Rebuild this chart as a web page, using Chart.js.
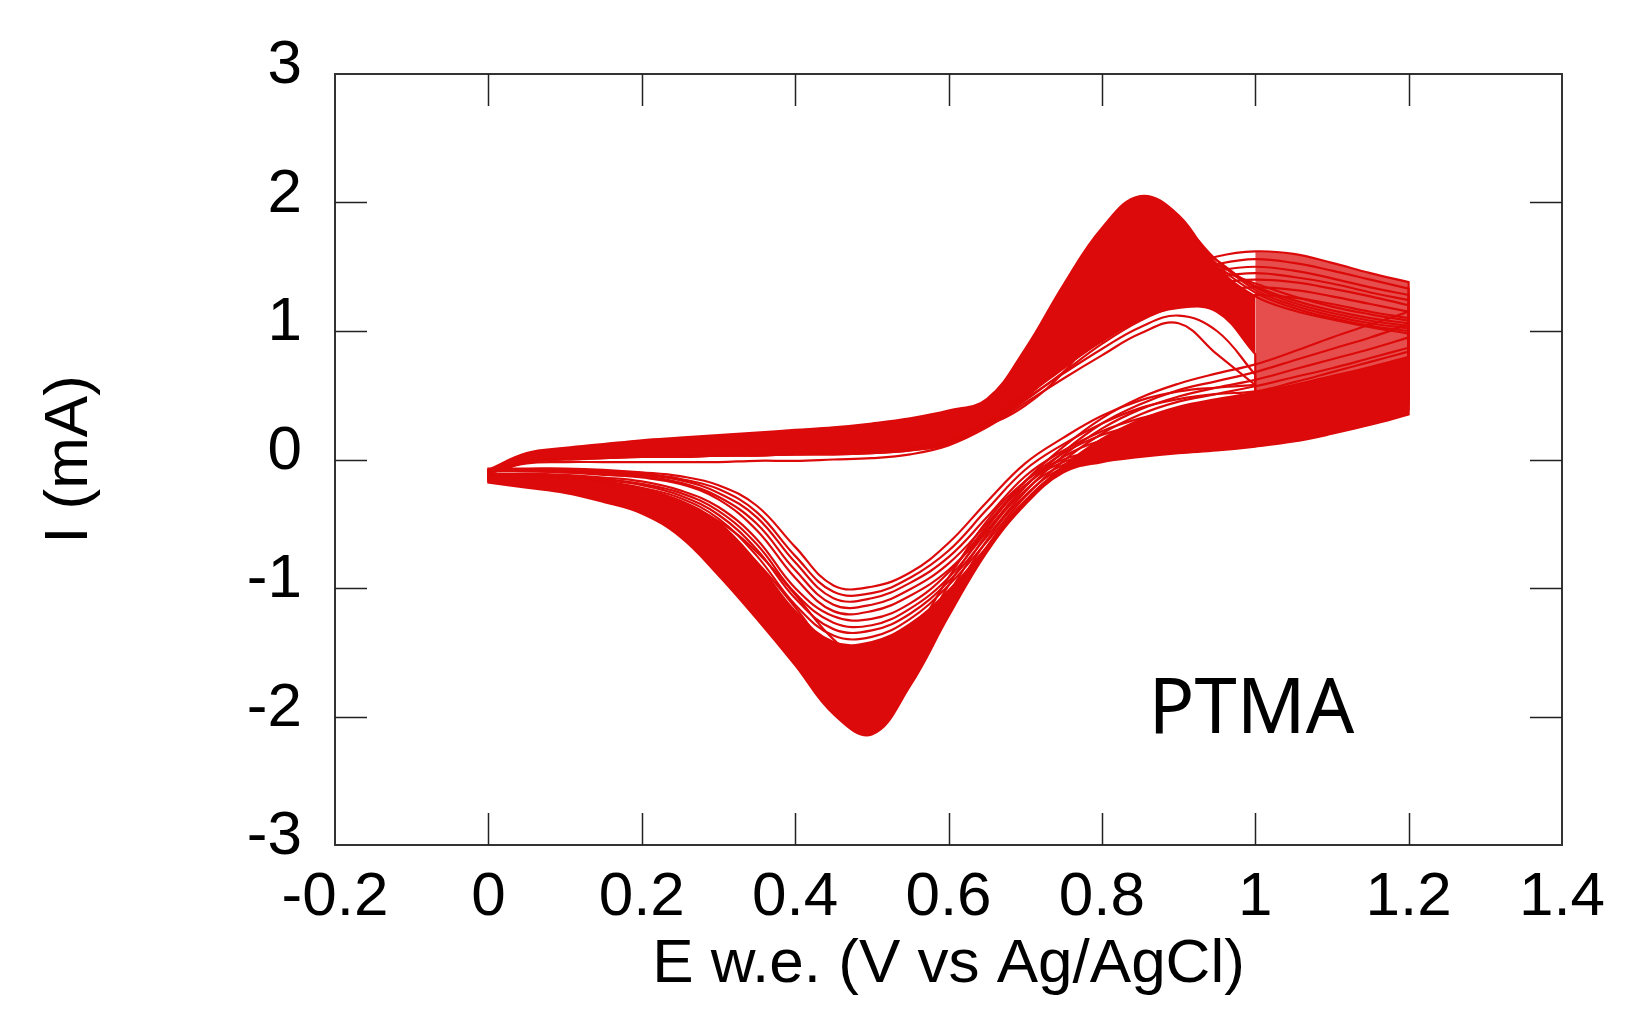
<!DOCTYPE html>
<html>
<head>
<meta charset="utf-8">
<script src="https://cdn.jsdelivr.net/npm/chart.js@4.4.1/dist/chart.umd.min.js"></script>
<style>
  html, body { margin: 0; padding: 0; background: #fff; }
  #wrap { width: 1641px; height: 1028px; }
</style>
</head>
<body>
<div id="wrap"><canvas id="c" width="1641" height="1028"></canvas></div>
<script>
// ---------- data ----------
// potential grid (V vs Ag/AgCl) shared by all branches
const E_GRID = [0, 0.05, 0.1, 0.15, 0.2, 0.25, 0.3, 0.35, 0.4, 0.45, 0.5, 0.55, 0.6,
                0.65, 0.7, 0.75, 0.8, 0.85, 0.9, 0.95, 1.0, 1.05, 1.1, 1.15, 1.2];

// main cycles (switching potential 1.2 V) - anodic branch (mA), E ascending
const M1_ANODIC = [-0.08, 0.05, 0.09, 0.12, 0.15, 0.17, 0.19, 0.21, 0.23, 0.25, 0.28, 0.32, 0.38, 0.47, 0.86, 1.36, 1.80, 2.05, 1.90, 1.50, 1.27, 1.16, 1.09, 1.03, 0.98];
const M2_ANODIC = [-0.09, 0.04, 0.08, 0.11, 0.13, 0.15, 0.17, 0.19, 0.21, 0.23, 0.26, 0.29, 0.34, 0.43, 0.74, 1.22, 1.70, 1.96, 1.86, 1.52, 1.30, 1.18, 1.10, 1.04, 1.00];
const M3_ANODIC = [-0.10, 0.03, 0.07, 0.10, 0.12, 0.14, 0.15, 0.17, 0.19, 0.21, 0.23, 0.26, 0.30, 0.38, 0.63, 1.06, 1.55, 1.84, 1.83, 1.55, 1.32, 1.20, 1.12, 1.06, 1.02];
const M4_ANODIC = [-0.10, 0.02, 0.06, 0.08, 0.10, 0.12, 0.13, 0.15, 0.16, 0.18, 0.20, 0.23, 0.27, 0.34, 0.55, 0.92, 1.38, 1.70, 1.75, 1.55, 1.34, 1.22, 1.14, 1.08, 1.04];
const M5_ANODIC = [-0.11, 0.01, 0.05, 0.07, 0.09, 0.10, 0.11, 0.12, 0.14, 0.15, 0.17, 0.20, 0.24, 0.30, 0.48, 0.80, 1.22, 1.53, 1.63, 1.52, 1.35, 1.24, 1.16, 1.10, 1.06];
const M6_ANODIC = [-0.11, 0.00, 0.04, 0.06, 0.07, 0.08, 0.09, 0.10, 0.11, 0.13, 0.15, 0.17, 0.21, 0.27, 0.42, 0.68, 1.04, 1.34, 1.50, 1.47, 1.37, 1.27, 1.19, 1.13, 1.08];

// main cycles - cathodic branch (mA), listed with E ascending
const M1_CATHODIC = [-0.18, -0.22, -0.26, -0.33, -0.42, -0.60, -0.90, -1.24, -1.60, -1.98, -2.14, -1.76, -1.22, -0.72, -0.35, -0.10, -0.02, 0.02, 0.05, 0.07, 0.10, 0.14, 0.20, 0.27, 0.35];
const M2_CATHODIC = [-0.17, -0.21, -0.25, -0.30, -0.38, -0.52, -0.78, -1.10, -1.46, -1.84, -2.04, -1.72, -1.18, -0.68, -0.32, -0.08, 0.00, 0.04, 0.07, 0.10, 0.13, 0.18, 0.24, 0.31, 0.39];
const M3_CATHODIC = [-0.16, -0.19, -0.23, -0.28, -0.35, -0.47, -0.68, -0.97, -1.33, -1.74, -1.95, -1.66, -1.12, -0.63, -0.28, -0.06, 0.02, 0.06, 0.09, 0.12, 0.16, 0.21, 0.28, 0.35, 0.43];
const M4_CATHODIC = [-0.15, -0.18, -0.21, -0.26, -0.32, -0.42, -0.60, -0.88, -1.24, -1.63, -1.85, -1.58, -1.05, -0.58, -0.24, -0.04, 0.03, 0.08, 0.11, 0.15, 0.19, 0.25, 0.32, 0.40, 0.48];
const M5_CATHODIC = [-0.14, -0.16, -0.19, -0.23, -0.29, -0.38, -0.54, -0.80, -1.15, -1.52, -1.72, -1.48, -0.98, -0.53, -0.20, -0.02, 0.05, 0.10, 0.14, 0.18, 0.23, 0.29, 0.37, 0.46, 0.55];
const M6_CATHODIC = [-0.13, -0.15, -0.17, -0.21, -0.26, -0.34, -0.48, -0.72, -1.05, -1.40, -1.60, -1.38, -0.92, -0.48, -0.17, 0.00, 0.07, 0.12, 0.17, 0.22, 0.27, 0.34, 0.42, 0.52, 0.62];

// shifted cycles (broad anodic hump near 1.0 V, shallow cathodic minimum)
const S1_ANODIC = [-0.10, -0.01, 0.02, 0.03, 0.04, 0.04, 0.05, 0.05, 0.06, 0.07, 0.08, 0.10, 0.15, 0.28, 0.50, 0.78, 1.06, 1.30, 1.48, 1.58, 1.62, 1.60, 1.53, 1.45, 1.38];
const S2_ANODIC = [-0.10, -0.01, 0.02, 0.03, 0.04, 0.05, 0.06, 0.07, 0.07, 0.08, 0.10, 0.12, 0.17, 0.30, 0.52, 0.80, 1.05, 1.26, 1.40, 1.47, 1.50, 1.47, 1.41, 1.34, 1.28];
const S3_ANODIC = [-0.11, -0.02, 0.01, 0.02, 0.03, 0.04, 0.05, 0.05, 0.06, 0.07, 0.08, 0.10, 0.15, 0.27, 0.48, 0.74, 0.98, 1.18, 1.30, 1.37, 1.40, 1.38, 1.33, 1.27, 1.20];
const S1_CATHODIC = [-0.11, -0.11, -0.12, -0.14, -0.17, -0.24, -0.37, -0.62, -1.00, -1.22, -1.24, -1.12, -0.88, -0.52, -0.17, 0.10, 0.32, 0.48, 0.59, 0.67, 0.74, 0.84, 0.95, 1.05, 1.15];
const S2_CATHODIC = [-0.12, -0.12, -0.13, -0.16, -0.20, -0.28, -0.43, -0.70, -1.08, -1.32, -1.33, -1.20, -0.95, -0.60, -0.25, 0.03, 0.24, 0.39, 0.49, 0.56, 0.62, 0.70, 0.78, 0.86, 0.95];
const S3_CATHODIC = [-0.13, -0.13, -0.15, -0.18, -0.23, -0.32, -0.49, -0.80, -1.18, -1.42, -1.42, -1.28, -1.02, -0.68, -0.33, -0.05, 0.16, 0.31, 0.41, 0.47, 0.52, 0.58, 0.65, 0.72, 0.80];

// intermediate cycles of the shallow family
const U1_ANODIC = [-0.10, -0.02, 0.00, 0.01, 0.02, 0.02, 0.03, 0.03, 0.04, 0.04, 0.05, 0.07, 0.12, 0.26, 0.46, 0.68, 0.90, 1.08, 1.20, 1.26, 1.28, 1.26, 1.21, 1.15, 1.10];
const U2_ANODIC = [-0.10, -0.02, 0.01, 0.02, 0.02, 0.03, 0.03, 0.04, 0.04, 0.05, 0.06, 0.08, 0.14, 0.28, 0.49, 0.71, 0.93, 1.12, 1.24, 1.31, 1.34, 1.32, 1.27, 1.21, 1.15];
const U3_ANODIC = [-0.10, -0.01, 0.02, 0.03, 0.04, 0.05, 0.05, 0.06, 0.07, 0.08, 0.09, 0.11, 0.16, 0.29, 0.51, 0.79, 1.05, 1.28, 1.44, 1.52, 1.56, 1.53, 1.47, 1.40, 1.33];
const U4_ANODIC = [-0.11, -0.02, 0.01, 0.02, 0.03, 0.04, 0.05, 0.06, 0.06, 0.07, 0.09, 0.11, 0.16, 0.28, 0.50, 0.77, 1.01, 1.22, 1.35, 1.42, 1.45, 1.42, 1.37, 1.30, 1.24];
const U1_CATHODIC = [-0.08, -0.08, -0.08, -0.09, -0.11, -0.15, -0.23, -0.41, -0.75, -1.03, -1.04, -0.92, -0.71, -0.39, -0.08, 0.12, 0.28, 0.40, 0.47, 0.51, 0.53, 0.60, 0.68, 0.76, 0.84];
const U2_CATHODIC = [-0.09, -0.09, -0.10, -0.11, -0.13, -0.18, -0.29, -0.50, -0.86, -1.13, -1.13, -1.01, -0.81, -0.50, -0.17, 0.05, 0.19, 0.27, 0.32, 0.35, 0.37, 0.45, 0.54, 0.63, 0.72];
const U3_CATHODIC = [-0.12, -0.12, -0.13, -0.15, -0.19, -0.26, -0.40, -0.66, -1.04, -1.27, -1.29, -1.16, -0.92, -0.56, -0.21, 0.06, 0.28, 0.43, 0.54, 0.61, 0.68, 0.77, 0.86, 0.95, 1.05];
const U4_CATHODIC = [-0.13, -0.13, -0.14, -0.17, -0.22, -0.30, -0.46, -0.75, -1.13, -1.37, -1.38, -1.24, -0.98, -0.64, -0.29, -0.01, 0.20, 0.35, 0.45, 0.51, 0.57, 0.64, 0.71, 0.79, 0.87];

// early cycles (switching potential 1.0 V)
const T1_ANODIC = [-0.10, -0.03, -0.02, -0.02, -0.02, -0.02, -0.02, -0.01, -0.01, 0.00, 0.01, 0.04, 0.11, 0.25, 0.44, 0.63, 0.81, 0.98, 1.06, 0.82, 0.58];
const T2_ANODIC = [-0.10, -0.02, 0.00, 0.01, 0.02, 0.02, 0.03, 0.03, 0.04, 0.04, 0.05, 0.07, 0.13, 0.27, 0.47, 0.67, 0.86, 1.03, 1.12, 1.00, 0.66];
const T3_ANODIC = [-0.10, -0.01, 0.01, 0.02, 0.03, 0.03, 0.04, 0.04, 0.05, 0.05, 0.06, 0.09, 0.15, 0.30, 0.51, 0.72, 0.92, 1.09, 1.18, 1.15, 0.82];
const T1_CATHODIC = [-0.07, -0.07, -0.07, -0.08, -0.10, -0.13, -0.20, -0.36, -0.68, -0.98, -0.99, -0.88, -0.65, -0.33, -0.03, 0.17, 0.34, 0.46, 0.53, 0.56, 0.58];
const T2_CATHODIC = [-0.08, -0.08, -0.09, -0.10, -0.12, -0.16, -0.26, -0.45, -0.80, -1.08, -1.08, -0.96, -0.76, -0.45, -0.13, 0.07, 0.22, 0.32, 0.38, 0.41, 0.42];
const T3_CATHODIC = [-0.09, -0.09, -0.10, -0.12, -0.14, -0.19, -0.31, -0.55, -0.92, -1.18, -1.18, -1.06, -0.86, -0.55, -0.21, 0.02, 0.15, 0.22, 0.26, 0.28, 0.30];

const CYCLES = [
  [M1_ANODIC, M1_CATHODIC], [M2_ANODIC, M2_CATHODIC], [M3_ANODIC, M3_CATHODIC],
  [M4_ANODIC, M4_CATHODIC], [M5_ANODIC, M5_CATHODIC], [M6_ANODIC, M6_CATHODIC],
  [S1_ANODIC, S1_CATHODIC], [S2_ANODIC, S2_CATHODIC], [S3_ANODIC, S3_CATHODIC],
  [U1_ANODIC, U1_CATHODIC], [U2_ANODIC, U2_CATHODIC], [U3_ANODIC, U3_CATHODIC], [U4_ANODIC, U4_CATHODIC],
  [T1_ANODIC, T1_CATHODIC], [T2_ANODIC, T2_CATHODIC], [T3_ANODIC, T3_CATHODIC]
];

// axes
const X_TICKS = [-0.2, 0, 0.2, 0.4, 0.6, 0.8, 1.0, 1.2, 1.4];
const X_TICK_LABELS = ['-0.2', '0', '0.2', '0.4', '0.6', '0.8', '1', '1.2', '1.4'];
const Y_TICKS = [-3, -2, -1, 0, 1, 2, 3];
const Y_TICK_LABELS = ['-3', '-2', '-1', '0', '1', '2', '3'];
const X_TITLE = 'E w.e. (V vs Ag/AgCl)';
const Y_TITLE = 'I (mA)';
const SAMPLE_LABEL = 'PTMA';
const SAMPLE_LABEL_POS = [0.995, -1.96];

// ---------- build datasets ----------
const RED = '#dc0a0a';
const RED_HATCH = 'rgba(220,10,10,0.72)';
const TENSION = 0.4;

function branch(values, from, to) {
  const start = from || 0;
  const end = to === undefined ? values.length - 1 : to;
  const pts = [];
  for (let i = start; i <= end; i++) pts.push({ x: E_GRID[i], y: values[i] });
  return pts;
}

function buildLoop(anodic, cathodic) {
  const pts = [];
  anodic.forEach((v, i) => pts.push({ x: E_GRID[i], y: v }));
  const nA = anodic.length - 1;
  pts.push({ x: E_GRID[nA], y: anodic[nA] });           // corner (vertical at switching potential)
  const nC = cathodic.length - 1;
  pts.push({ x: E_GRID[nC], y: cathodic[nC] });
  for (let i = nC; i >= 0; i--) pts.push({ x: E_GRID[i], y: cathodic[i] });
  pts.push({ x: E_GRID[0], y: cathodic[0] });           // corner at 0 V
  pts.push({ x: E_GRID[0], y: anodic[0] });
  pts.push({ x: E_GRID[0], y: anodic[0] });
  return pts;
}

// envelope datasets: the dense overlap of the many recorded cycles, filled between outer curves
function envelope(points, fillTarget, color) {
  return {
    data: points, showLine: true, borderWidth: 0, borderColor: 'rgba(0,0,0,0)',
    pointRadius: 0, tension: TENSION,
    fill: fillTarget === null ? false : fillTarget,
    backgroundColor: color || 'rgba(0,0,0,0)'
  };
}

const datasets = [
  envelope(branch(T3_ANODIC), 1, RED),                         // 0 anodic band
  envelope(branch(M1_ANODIC), null),                           // 1
  envelope(branch(S3_CATHODIC), 3, RED),                       // 2 cathodic band
  envelope(branch(M1_CATHODIC), null),                         // 3
  envelope(branch(S1_ANODIC, 20), 5, RED_HATCH),               // 4 right-hand region
  envelope(branch(S3_CATHODIC, 20), null)                      // 5
].concat(CYCLES.map(([a, c]) => ({
  data: buildLoop(a, c),
  showLine: true,
  borderColor: RED,
  borderWidth: 2.2,
  pointRadius: 0,
  tension: TENSION,
  fill: false
})));

const framePlugin = {
  id: 'frame',
  afterDraw(chart) {
    const { ctx, chartArea: a } = chart;
    const xs = chart.scales.x, ys = chart.scales.y;
    ctx.save();
    ctx.strokeStyle = '#333';
    ctx.lineWidth = 2;
    ctx.strokeRect(a.left, a.top, a.right - a.left, a.bottom - a.top);
    ctx.lineWidth = 1.5;
    ctx.strokeStyle = '#222';
    const L = 32;
    ctx.beginPath();
    X_TICKS.forEach(v => {
      if (v === X_TICKS[0] || v === X_TICKS[X_TICKS.length - 1]) return;
      const px = Math.round(xs.getPixelForValue(v)) + 0.5;
      ctx.moveTo(px, a.bottom); ctx.lineTo(px, a.bottom - L);
      ctx.moveTo(px, a.top); ctx.lineTo(px, a.top + L);
    });
    Y_TICKS.forEach(v => {
      if (v === Y_TICKS[0] || v === Y_TICKS[Y_TICKS.length - 1]) return;
      const py = Math.round(ys.getPixelForValue(v)) + 0.5;
      ctx.moveTo(a.left, py); ctx.lineTo(a.left + L, py);
      ctx.moveTo(a.right, py); ctx.lineTo(a.right - L, py);
    });
    ctx.stroke();
    ctx.fillStyle = '#000';
    ctx.font = '76px "Noto Sans", "Liberation Sans", sans-serif';
    ctx.textAlign = 'center';
    ctx.textBaseline = 'middle';
    ctx.fillText(SAMPLE_LABEL, xs.getPixelForValue(SAMPLE_LABEL_POS[0]), ys.getPixelForValue(SAMPLE_LABEL_POS[1]));
    ctx.restore();
  }
};

const FONT = '"Liberation Sans", Arial, sans-serif';

new Chart(document.getElementById('c'), {
  type: 'scatter',
  data: { datasets },
  options: {
    responsive: false,
    animation: false,
    devicePixelRatio: 1,
    layout: { padding: { left: 0, top: 74, right: 79, bottom: 0 } },
    plugins: { legend: { display: false }, tooltip: { enabled: false } },
    scales: {
      x: {
        type: 'linear',
        min: X_TICKS[0], max: X_TICKS[X_TICKS.length - 1],
        afterBuildTicks: s => { s.ticks = X_TICKS.map(v => ({ value: v })); },
        afterFit: s => { s.height = 183; },
        grid: { display: false, drawTicks: false },
        border: { display: false },
        ticks: {
          callback: (v, i) => X_TICK_LABELS[i],
          color: '#000',
          font: { family: FONT, size: 62 },
          padding: 16,
          maxRotation: 0,
          autoSkip: false
        },
        title: { display: true, text: X_TITLE, color: '#000', font: { family: FONT, size: 62 }, padding: { top: 0, bottom: 26 } }
      },
      y: {
        type: 'linear',
        min: Y_TICKS[0], max: Y_TICKS[Y_TICKS.length - 1],
        afterBuildTicks: s => { s.ticks = Y_TICKS.map(v => ({ value: v })); },
        afterFit: s => { s.width = 335; },
        grid: { display: false, drawTicks: false },
        border: { display: false },
        ticks: {
          callback: (v, i) => Y_TICK_LABELS[i],
          color: '#000',
          font: { family: FONT, size: 62 },
          padding: 33,
          labelOffset: -8,
          autoSkip: false
        },
        title: { display: true, text: Y_TITLE, color: '#000', font: { family: FONT, size: 62 }, padding: { top: 33, bottom: 0 } }
      }
    }
  },
  plugins: [framePlugin]
});
</script>
</body>
</html>
